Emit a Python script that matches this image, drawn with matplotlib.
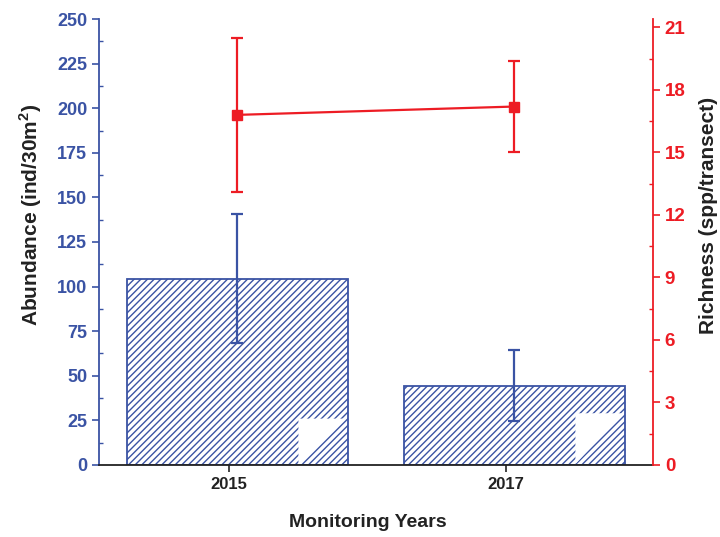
import matplotlib.pyplot as plt
from matplotlib.ticker import MultipleLocator

plt.rcParams['font.family'] = ['Liberation Sans', 'DejaVu Sans']
plt.rcParams['font.weight'] = 'bold'
plt.rcParams['mathtext.fontset'] = 'custom'
plt.rcParams['mathtext.rm'] = 'Liberation Sans:bold'
plt.rcParams['mathtext.bf'] = 'Liberation Sans:bold'
plt.rcParams['hatch.linewidth'] = 1.0

# Monitoring data
years = ['2015', '2017']
abundance = [104.5, 44.5]
abundance_err = [36, 20]
richness = [16.8, 17.2]
richness_err = [3.7, 2.2]

blue = '#3a53a4'
red = '#ed1c24'
dark = '#222222'

fig = plt.figure(figsize=(7.2, 5.37), dpi=100)
ax = fig.add_axes([0.1375, 0.1341, 0.7694, 0.8305])

x = range(len(years))
bw = 0.8
ax.bar(x, abundance, width=bw, facecolor='white', edgecolor=blue,
       hatch='/////', linewidth=1.3, zorder=2)
ax.errorbar(x, abundance, yerr=abundance_err, fmt='none', ecolor=blue,
            elinewidth=1.6, capsize=4, capthick=1.6, zorder=3)

# small white corner patches at the base of each bar
for xi, top in zip(x, [26, 29]):
    xr = xi + bw / 2 - 0.01
    ax.fill([xr - 0.17, xr, xr - 0.17], [top, top, 0.5], color='white',
            lw=0, zorder=2.5)

ax.set_xlim(-0.5, 1.5)
ax.set_ylim(0, 250)
ax.set_xticks([xi - 0.032 for xi in x])
ax.set_xticklabels(years)
ax.yaxis.set_major_locator(MultipleLocator(25))
ax.yaxis.set_minor_locator(MultipleLocator(12.5))
ax.tick_params(axis='y', which='major', direction='out', length=5, width=1.2,
               colors=blue, labelsize=13)
ax.tick_params(axis='y', which='minor', direction='in', length=3, width=1,
               color=blue)
ax.tick_params(axis='x', direction='out', length=5, width=1.2, colors=dark,
               labelsize=12)
ax.spines['left'].set_color(blue)
ax.spines['left'].set_linewidth(1.3)
ax.spines['bottom'].set_color(dark)
ax.spines['bottom'].set_linewidth(1.3)
ax.spines['top'].set_visible(False)
ax.spines['right'].set_visible(False)
ax.set_xlabel('Monitoring Years', fontsize=14, fontweight='bold',
              color=dark)
ax.xaxis.set_label_coords(0.485, -0.11)
ax.set_ylabel('Abundance (ind/30m$^{2}$)', fontsize=15,
              fontweight='bold', color=dark)
ax.yaxis.set_label_coords(-0.1, 0.56)

# Richness on the right axis
ax2 = ax.twinx()
ax2.errorbar(x, richness, yerr=richness_err, color=red, marker='s',
             markersize=7, linewidth=1.6, elinewidth=1.6, capsize=4,
             capthick=1.6)
ax2.set_ylim(0, 21.4)
ax2.yaxis.set_major_locator(MultipleLocator(3))
ax2.yaxis.set_minor_locator(MultipleLocator(1.5))
ax2.tick_params(axis='y', which='major', direction='out', length=5, width=1.2,
                colors=red, labelsize=13.5)
ax2.tick_params(axis='y', which='minor', direction='in', length=3, width=1,
                color=red)
ax2.spines['right'].set_color(red)
ax2.spines['right'].set_linewidth(1.3)
for s in ['left', 'top', 'bottom']:
    ax2.spines[s].set_visible(False)
ax2.set_ylabel('Richness (spp/transect)', fontsize=15, fontweight='bold',
               color=dark)
ax2.yaxis.set_label_coords(1.083, 0.56)

for lab in ax.get_xticklabels() + ax.get_yticklabels() + ax2.get_yticklabels():
    lab.set_fontweight('bold')

fig.savefig('out.png', dpi=100)
